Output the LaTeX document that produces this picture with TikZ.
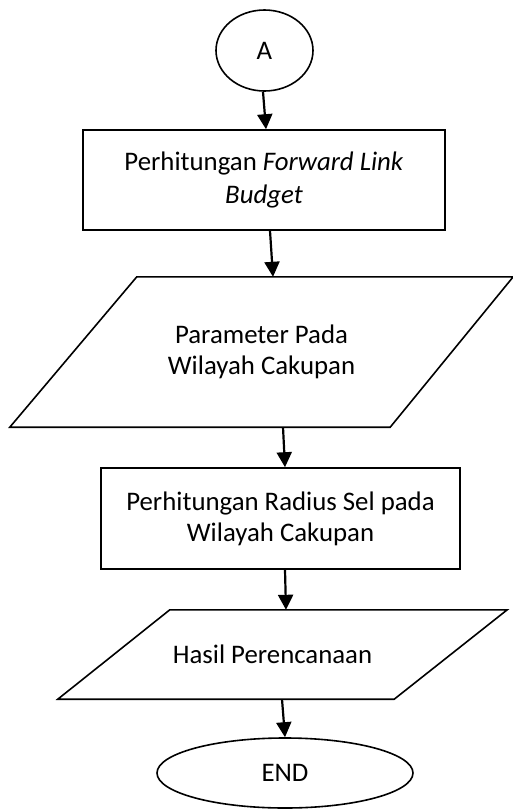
\documentclass[tikz,border=0pt]{standalone}
\usepackage{fontspec}
\setmainfont{Carlito}
\usetikzlibrary{shapes.geometric,arrows.meta,calc}
\begin{document}
\begin{tikzpicture}[x=1pt,y=-1pt,
  txt/.style={font=\fontsize{26.8}{31}\selectfont, align=center, inner sep=0pt},
  shp/.style={draw, line width=1.6pt},
  arr/.style={line width=2.2pt, -{Triangle[length=15pt,width=15pt]}}]
\useasboundingbox (0,0) rectangle (513,809);
% terminals and processes
\node[shp, txt, ellipse, minimum width=97pt, minimum height=81pt] (A) at (264.5,50.5) {A};
\node[shp, txt, rectangle, minimum width=362pt, minimum height=100pt] (r1) at (264,180)
  {Perhitungan \textit{Forward Link}\\[2pt]\textit{Budget}};
\node[txt, rectangle, minimum width=503pt, minimum height=150pt] (p1) at (261.5,352)
  {Parameter Pada\\Wilayah Cakupan};
\draw[shp] ($(p1.north west)+(127,0)$) -- (p1.north east) -- ($(p1.south east)+(-123,0)$) -- (p1.south west) -- cycle;
\node[shp, txt, rectangle, minimum width=359pt, minimum height=101pt] (r2) at (280.5,518.5)
  {Perhitungan Radius Sel pada\\Wilayah Cakupan};
\node[txt, rectangle, minimum width=449pt, minimum height=89pt] (p2) at (282.5,654.5)
  {\hspace*{-20pt}Hasil Perencanaan};
\draw[shp] ($(p2.north west)+(112,0)$) -- (p2.north east) -- ($(p2.south east)+(-113,0)$) -- (p2.south west) -- cycle;
\node[shp, txt, ellipse, minimum width=256pt, minimum height=70pt] (E) at (285,773) {END};
% connectors
\draw[arr] ([xshift=-1.5pt]A.south) -- ([xshift=2pt]r1.north);
\draw[arr] ([xshift=6pt]r1.south) -- ([xshift=11.5pt]p1.north);
\draw[arr] ([xshift=21.5pt]p1.south) -- ([xshift=4.5pt]r2.north);
\draw[arr] ([xshift=4.5pt]r2.south) -- ([xshift=3.5pt]p2.north);
\draw[arr] ([xshift=-0.5pt]p2.south) -- (E.north);
\end{tikzpicture}
\end{document}
